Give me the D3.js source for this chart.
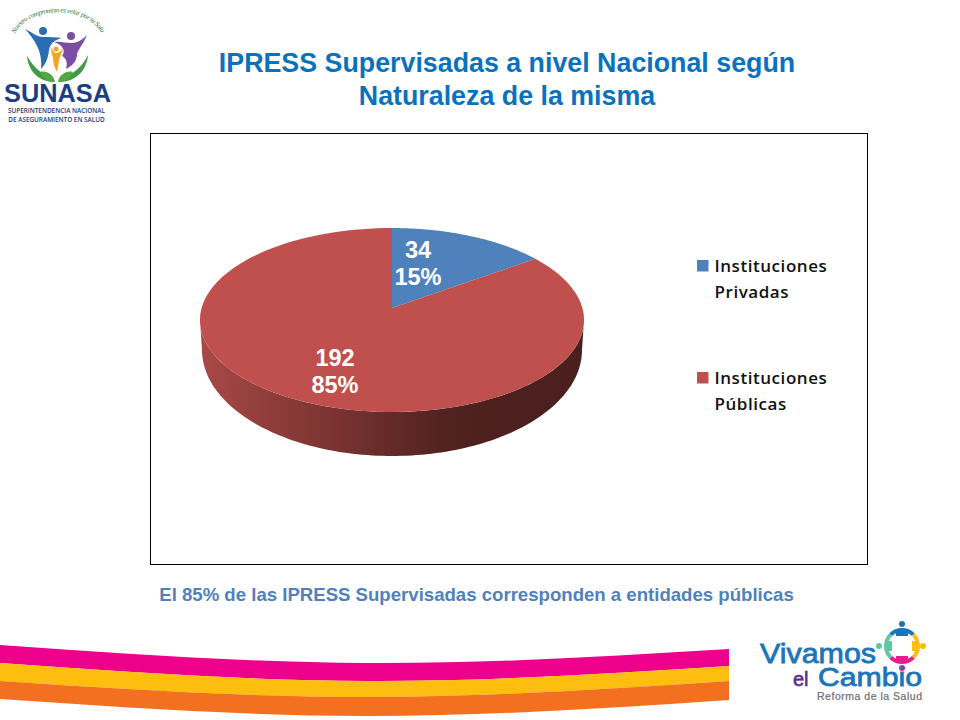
<!DOCTYPE html>
<html>
<head>
<meta charset="utf-8">
<style>
  html, body { margin: 0; padding: 0; background: #fff; }
  svg { display: block; }
  .title { font-family: "Liberation Sans", sans-serif; font-weight: bold; font-size: 26.8px; fill: #0a72bd; text-anchor: middle; }
  .note { font-family: "Liberation Sans", sans-serif; font-weight: bold; font-size: 18.6px; fill: #4f81bd; text-anchor: middle; }
  .label { font-family: "Liberation Sans", sans-serif; font-weight: bold; font-size: 23.5px; fill: #fff; text-anchor: middle; }
  .legend { font-family: "Open Sans", sans-serif; font-weight: 600; font-size: 17px; fill: #111; }
</style>
</head>
<body>
<svg id="chart" width="960" height="720"></svg>
<script src="https://d3js.org/d3.v7.min.js"></script>
<script>
  var categories = ['Instituciones Privadas', 'Instituciones Públicas'];
  var values = [34, 192];
  var percents = [15, 85];
  var colors = ['#4f81bd', '#c0504d'];
  var titleLines = ['IPRESS Supervisadas a nivel Nacional según', 'Naturaleza de la misma'];
  var note = 'El 85% de las IPRESS Supervisadas corresponden a entidades públicas';

  var svg = d3.select('#chart');
  var defs = svg.append('defs');

  // -----------------------------------
  // Titles and frame
  svg.selectAll('.title').data(titleLines).enter().append('text')
    .attr('class', 'title')
    .attr('x', 507)
    .attr('y', function(d, i) { return 72 + i * 33; })
    .text(function(d) { return d; });

  svg.append('rect')
    .attr('x', 150.5).attr('y', 133.5)
    .attr('width', 717).attr('height', 431)
    .attr('fill', '#fff').attr('stroke', '#000').attr('stroke-width', 1);

  svg.append('text').attr('class', 'note')
    .attr('x', 476.5).attr('y', 601)
    .text(note);

  // -----------------------------------
  // Pie with a perspective tilt, apex sits above the middle of the ellipse
  var cx = 392, cy = 308;
  var k = 0.1304, a = 190.4, b = 90.4;

  function project(angle, r) {
    var u = Math.sin(angle) * r, v = Math.cos(angle) * r;
    return [cx + a * u / (1 + k * v), cy - b * v / (1 + k * v)];
  }
  function rim(from, to) {
    return d3.range(0, 121).map(function(i) {
      return project(from + (to - from) * i / 120, 1);
    });
  }
  // lower edge of the wall is its own ellipse
  function lowerRim(from, to) {
    return d3.range(0, 121).map(function(i) {
      var t = from + (to - from) * i / 120;
      return [cx + 190 * Math.sin(t), 350 - 106 * Math.cos(t)];
    });
  }

  var pie = d3.pie().sort(null).value(function(d) { return d; });
  var arcs = pie(values);
  var line = d3.line();

  var sideGrad = defs.append('linearGradient').attr('id', 'side')
    .attr('gradientUnits', 'userSpaceOnUse')
    .attr('x1', 200).attr('x2', 584).attr('y1', 0).attr('y2', 0);
  [[0, '#a84a48'], [0.16, '#923e3c'], [0.34, '#7c3432'], [0.5, '#642a28'], [0.66, '#4f211f'], [1, '#4a1f1e']]
    .forEach(function(s) {
      sideGrad.append('stop').attr('offset', s[0]).attr('stop-color', s[1]);
    });

  // front wall, from the right edge round to the left edge
  svg.append('path')
    .attr('d', line(rim(Math.PI * 0.54, Math.PI * 1.46).concat(lowerRim(Math.PI * 1.5, Math.PI * 0.5))) + 'Z')
    .attr('fill', 'url(#side)');

  svg.selectAll('.slice').data(arcs).enter().append('path')
    .attr('class', 'slice')
    .attr('fill', function(d, i) { return colors[i]; })
    .attr('d', function(d) {
      return line([[cx, cy]].concat(rim(d.startAngle, d.endAngle))) + 'Z';
    });

  var labelOffsets = [[26, -44], [-57, 64]];
  arcs.forEach(function(d, i) {
    var g = svg.append('g')
      .attr('transform', 'translate(' + (cx + labelOffsets[i][0]) + ',' + (cy + labelOffsets[i][1]) + ')');
    g.append('text').attr('class', 'label').attr('y', -6).text(d3.format('d')(values[i]));
    g.append('text').attr('class', 'label').attr('y', 21).text(percents[i] + '%');
  });

  // -----------------------------------
  // Legend
  var legend = svg.selectAll('.item').data(categories).enter().append('g')
    .attr('class', 'item')
    .attr('transform', function(d, i) { return 'translate(697,' + (260 + i * 112) + ')'; });
  legend.append('rect')
    .attr('width', 11.5).attr('height', 11.5)
    .attr('fill', function(d, i) { return colors[i]; });
  legend.each(function(d) {
    var words = d.split(' ');
    var g = d3.select(this);
    words.forEach(function(w, j) {
      g.append('text').attr('class', 'legend')
        .attr('x', 17.5).attr('y', 12 + j * 26)
        .attr('letter-spacing', 0.55)
        .text(w);
    });
  });

  // -----------------------------------
  // Ribbon at the bottom
  var ribbonX = [0, 367, 729];
  var ribbonEdges = [[645, 663, 649], [663, 681, 666], [681, 697, 681], [699, 716, 700]];
  var ribbonColors = ['#ec008c', '#fdbe10', '#f37021'];
  var band = d3.area().curve(d3.curveNatural)
    .x(function(d) { return d.x; })
    .y0(function(d) { return d.y0; })
    .y1(function(d) { return d.y1; });
  ribbonColors.forEach(function(c, i) {
    svg.append('path').attr('fill', c)
      .attr('d', band(ribbonX.map(function(x, j) {
        return { x: x, y0: ribbonEdges[i][j], y1: ribbonEdges[i + 1][j] };
      })));
  });

  // -----------------------------------
  // SUNASA logo
  var logo = svg.append('g');
  logo.append('path').attr('id', 'motto').attr('fill', 'none')
    .attr('d', 'M15,34 C28,6 86,4 102,34');
  logo.append('text')
    .attr('font-family', 'Liberation Serif, serif').attr('font-style', 'italic')
    .attr('font-size', 7).attr('fill', '#2d7a3e')
    .append('textPath').attr('href', '#motto')
    .attr('textLength', 104)
    .text('Nuestro compromiso es velar por tu Salud');
  logo.append('path').attr('fill', '#3f9b47')
    .attr('d', 'M27,56 C28,70 38,82 55,82 C48,76 36,72 27,56Z M88,55 C87,70 76,82 59,82 C66,76 80,72 88,55Z');
  logo.append('path').attr('fill', '#54a843')
    .attr('d', 'M40,72 C48,70 54,76 55,82 C47,82 43,78 40,72Z M73,72 C65,70 59,76 58,82 C66,82 70,78 73,72Z');
  logo.append('circle').attr('cx', 43).attr('cy', 31).attr('r', 4).attr('fill', '#2a6db5');
  logo.append('path').attr('fill', '#2a6db5')
    .attr('d', 'M25,29 C32,32 36,37 44,37 C50,37 56,37 62,38 C54,40 50,44 49,50 C48,58 46,64 41,69 C42,60 40,52 37,46 C34,40 30,34 25,29Z');
  logo.append('circle').attr('cx', 71).attr('cy', 36).attr('r', 4).attr('fill', '#7b4ea3');
  logo.append('path').attr('fill', '#7b4ea3')
    .attr('d', 'M54,42 C60,41 66,43 72,43 C78,43 83,39 87,35 C84,43 79,48 77,54 C77,60 74,65 66,69 C68,62 66,58 62,56 C65,52 65,46 54,42Z');
  logo.append('circle').attr('cx', 56).attr('cy', 49).attr('r', 2.6).attr('fill', '#f3a51d');
  logo.append('path').attr('fill', '#f3a51d')
    .attr('d', 'M50,45 C52,50 54,53 56,53 C59,53 61,51 63,48 C62,53 60,56 59,60 L57,72 C55,68 53,64 53,58 C52,54 51,50 50,45Z');
  logo.append('text')
    .attr('x', 4).attr('y', 102)
    .attr('font-family', 'Liberation Sans, sans-serif').attr('font-weight', 'bold')
    .attr('font-size', 25).attr('fill', '#1c3f83')
    .attr('textLength', 107).attr('lengthAdjust', 'spacingAndGlyphs')
    .text('SUNASA');
  ['SUPERINTENDENCIA NACIONAL', 'DE ASEGURAMIENTO EN SALUD'].forEach(function(t, i) {
    logo.append('text')
      .attr('x', 56.5).attr('y', 113 + i * 8.5)
      .attr('text-anchor', 'middle')
      .attr('font-family', 'Open Sans, sans-serif').attr('font-weight', 600)
      .attr('font-size', 6.4).attr('fill', '#24397a')
      .text(t);
  });

  // -----------------------------------
  // Vivamos el Cambio logo
  var viv = svg.append('g');
  var ringColors = ['#1b75bb', '#fdbe10', '#ec1c8e', '#5fc8a0'];
  var ringPie = d3.pie().sort(null).startAngle(-Math.PI / 4).endAngle(Math.PI * 1.75)([1, 1, 1, 1]);
  var ringArc = d3.arc().innerRadius(14).outerRadius(18);
  viv.selectAll('.ring').data(ringPie).enter().append('path')
    .attr('class', 'ring')
    .attr('transform', 'translate(902,646)')
    .attr('fill', function(d, i) { return ringColors[i]; })
    .attr('d', ringArc);
  [[902, 624, 0], [923, 646, 1], [902, 668, 2], [879, 646, 3]].forEach(function(s) {
    viv.append('circle').attr('cx', s[0]).attr('cy', s[1]).attr('r', 3).attr('fill', ringColors[s[2]]);
  });
  viv.append('path').attr('fill', ringColors[0]).attr('d', 'M896,630h12v6h-12Z');
  viv.append('path').attr('fill', ringColors[1]).attr('d', 'M912,641h6v10h-6Z');
  viv.append('path').attr('fill', ringColors[2]).attr('d', 'M896,656h12v6h-12Z');
  viv.append('path').attr('fill', ringColors[3]).attr('d', 'M886,641h6v10h-6Z');
  viv.append('text')
    .attr('x', 760).attr('y', 663)
    .attr('font-family', 'Liberation Sans, sans-serif')
    .attr('font-size', 28).attr('fill', '#1b75bb').attr('stroke', '#1b75bb').attr('stroke-width', 0.8)
    .attr('textLength', 116).attr('lengthAdjust', 'spacingAndGlyphs')
    .text('Vivamos');
  viv.append('text')
    .attr('x', 793).attr('y', 686)
    .attr('font-family', 'Liberation Sans, sans-serif')
    .attr('font-size', 20).attr('fill', '#5b2d91').attr('stroke', '#5b2d91').attr('stroke-width', 0.6)
    .text('el');
  viv.append('text')
    .attr('x', 818).attr('y', 686)
    .attr('font-family', 'Liberation Sans, sans-serif')
    .attr('font-size', 26).attr('fill', '#1b75bb').attr('stroke', '#1b75bb').attr('stroke-width', 0.8)
    .attr('textLength', 104).attr('lengthAdjust', 'spacingAndGlyphs')
    .text('Cambio');
  viv.append('text')
    .attr('x', 817).attr('y', 700)
    .attr('font-family', 'Liberation Sans, sans-serif')
    .attr('font-size', 10.5).attr('fill', '#6d6e71').attr('stroke', '#6d6e71').attr('stroke-width', 0.2)
    .attr('textLength', 105).attr('lengthAdjust', 'spacing')
    .text('Reforma de la Salud');
</script>
</body>
</html>
